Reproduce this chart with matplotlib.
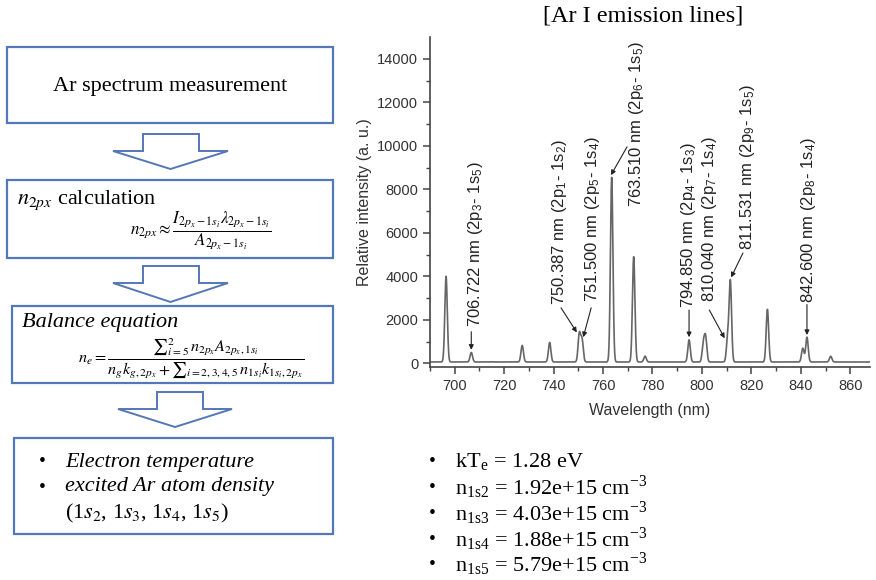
import numpy as np
import matplotlib
matplotlib.use("Agg")
import matplotlib.pyplot as plt
from matplotlib.patches import Rectangle, Polygon

plt.rcParams['mathtext.fontset'] = 'stix'

# ---------------- data ----------------
peak_nm = [696.5, 706.7, 714.7, 727.3, 738.4, 750.4, 751.5, 763.5, 772.4, 777.0,
           794.8, 800.6, 801.5, 810.4, 811.5, 826.5, 840.8, 842.5, 852.1]
peak_int = [4000, 500, 70, 820, 960, 1350, 1080, 8550, 4900, 330,
            1080, 870, 1150, 1100, 3750, 2480, 690, 1200, 320]
baseline = 60

label_text = ["706.722 nm (2p$_{\\mathregular{3}}$- 1s$_{\\mathregular{5}}$)",
              "750.387 nm (2p$_{\\mathregular{1}}$- 1s$_{\\mathregular{2}}$)",
              "751.500 nm (2p$_{\\mathregular{5}}$- 1s$_{\\mathregular{4}}$)",
              "763.510 nm (2p$_{\\mathregular{6}}$- 1s$_{\\mathregular{5}}$)",
              "794.850 nm (2p$_{\\mathregular{4}}$- 1s$_{\\mathregular{3}}$)",
              "810.040 nm (2p$_{\\mathregular{7}}$- 1s$_{\\mathregular{4}}$)",
              "811.531 nm (2p$_{\\mathregular{9}}$- 1s$_{\\mathregular{5}}$)",
              "842.600 nm (2p$_{\\mathregular{8}}$- 1s$_{\\mathregular{4}}$)"]
label_x = [708.4, 742.5, 755.7, 773.7, 794.6, 803.0, 818.6, 843.0]
label_y = [1660, 2670, 2810, 7190, 2530, 2810, 5200, 2760]
arrow_from = [(706.7, 1450), (743.0, 2550), (755.2, 2550), (769.7, 9950),
              (794.8, 2450), (803.0, 2450), (816.6, 5070), (842.5, 2700)]
arrow_to = [(706.7, 620), (749.4, 1420), (752.0, 1200), (763.2, 8650),
            (794.8, 1200), (809.2, 1150), (811.8, 3950), (842.5, 1300)]

y_ticks = [0, 2000, 4000, 6000, 8000, 10000, 12000, 14000]
x_ticks = [700, 720, 740, 760, 780, 800, 820, 840, 860]

results = ["kT$_{\\mathregular{e}}$ = 1.28 eV",
           "n$_{\\mathregular{1s2}}$ = 1.92e+15 cm$^{\\mathregular{-3}}$",
           "n$_{\\mathregular{1s3}}$ = 4.03e+15 cm$^{\\mathregular{-3}}$",
           "n$_{\\mathregular{1s4}}$ = 1.88e+15 cm$^{\\mathregular{-3}}$",
           "n$_{\\mathregular{1s5}}$ = 5.79e+15 cm$^{\\mathregular{-3}}$"]

# ---------------- figure ----------------
W, H = 876, 580
fig = plt.figure(figsize=(W / 100, H / 100), dpi=100)
ov = fig.add_axes([0, 0, 1, 1])
ov.set_xlim(0, W)
ov.set_ylim(H, 0)
ov.axis('off')

blue = '#5477B8'
serif = 'Liberation Serif'

def box(x0, y0, x1, y1):
    ov.add_patch(Rectangle((x0, y0), x1 - x0, y1 - y0, fill=False,
                           edgecolor=blue, lw=1.6))

def block_arrow(xs0, xs1, ys0, ys1, xh0, xh1, ytip):
    xm = (xh0 + xh1) / 2
    pts = [(xs0, ys0), (xs1, ys0), (xs1, ys1), (xh1, ys1), (xm, ytip),
           (xh0, ys1), (xs0, ys1)]
    ov.add_patch(Polygon(pts, closed=True, fill=False, edgecolor=blue, lw=1.4))

# boxes
box(7, 47, 333, 123)
ov.text(170, 87, "Ar spectrum measurement", family=serif, fontsize=16,
        ha='center', va='center')
block_arrow(143, 199, 134, 151, 113, 228, 169)

box(7, 180, 333, 258)
ov.text(17, 200, "$n_{2px}$ calculation", family=serif, fontsize=16,
        ha='left', va='center')
ov.text(201, 231, r"$n_{2px} \approx \dfrac{I_{2p_x-1s_i}\lambda_{2p_x-1s_i}}{A_{2p_x-1s_i}}$",
        fontsize=12.2, ha='center', va='center')
block_arrow(143, 199, 266, 283, 113, 228, 302)

box(12, 306, 333, 383)
ov.text(22, 322, "Balance equation", family=serif, style='italic', fontsize=16,
        ha='left', va='center')
ov.text(191, 358,
        r"$n_e = \dfrac{{\sum}_{i=5}^{2}\, n_{2p_x}A_{2p_x,1s_i}}{n_g k_{g,2p_x} + {\sum}_{i=2,3,4,5}\, n_{1s_i}k_{1s_i,2p_x}}$",
        fontsize=11.7, ha='center', va='center')
block_arrow(157, 203, 392, 409, 118, 232, 427)

box(14, 438, 333, 534)
ov.text(42, 462, "•", family=serif, fontsize=14, ha='center', va='center')
ov.text(65, 462, "Electron temperature", family=serif, style='italic',
        fontsize=16, ha='left', va='center')
ov.text(42, 487, "•", family=serif, fontsize=14, ha='center', va='center')
ov.text(65, 487, "excited Ar atom density", family=serif, style='italic',
        fontsize=16, ha='left', va='center')
ov.text(65, 513, "(1$s_2$, 1$s_3$, 1$s_4$, 1$s_5$)", family=serif,
        fontsize=16, ha='left', va='center')

# result bullets
for i, t in enumerate(results):
    yy = 462 + i * 25.7
    ov.text(432, yy, "•", family=serif, fontsize=14, ha='center', va='center')
    ov.text(455, yy, t, family=serif, fontsize=16, ha='left', va='center')

# title
ov.text(643, 16, "[Ar I emission lines]", family=serif, fontsize=17.5,
        ha='center', va='center')

# ---------------- spectrum ----------------
ax = fig.add_axes([430 / W, 1 - 367 / H, (870 - 430) / W, (367 - 37) / H])
ax.patch.set_alpha(0)
x = np.linspace(690, 868, 4000)
sig = 0.5
y = np.full_like(x, baseline, dtype=float)
for p, h in zip(peak_nm, peak_int):
    y += (h - baseline) * np.exp(-0.5 * ((x - p) / sig) ** 2)
ax.plot(x, y, color='#666666', lw=1.2)

ax.set_xlim(690, 868)
ax.set_ylim(-170, 15000)
ax.set_xticks(x_ticks)
ax.set_xticks(np.arange(690, 868, 10), minor=True)
ax.set_yticks(y_ticks)
ax.set_yticks(np.arange(1000, 15000, 2000), minor=True)
for s in ['top', 'right']:
    ax.spines[s].set_visible(False)
for s in ['left', 'bottom']:
    ax.spines[s].set_color('#444444')
    ax.spines[s].set_linewidth(1.2)
ax.tick_params(which='major', length=5, width=1.1, color='#444444',
               labelsize=10.5, labelcolor='#333333')
ax.tick_params(which='minor', length=3, width=1.0, color='#444444')
for lab in ax.get_xticklabels() + ax.get_yticklabels():
    lab.set_family('Liberation Sans')
ax.set_xlabel("Wavelength (nm)", family='Liberation Sans', fontsize=11.5,
              color='#333333', labelpad=7)
ax.set_ylabel("Relative intensity (a. u.)", family='Liberation Sans',
              fontsize=11.5, color='#333333', labelpad=4)

for t, lx, ly in zip(label_text, label_x, label_y):
    ax.text(lx, ly, t, rotation=90, ha='center', va='bottom',
            family='Liberation Sans', fontsize=12, color='#222222')
for (x0, y0), (x1, y1) in zip(arrow_from, arrow_to):
    ax.annotate('', xy=(x1, y1), xytext=(x0, y0),
                arrowprops=dict(arrowstyle='-|>', color='#222222', lw=0.8,
                                mutation_scale=7, shrinkA=0, shrinkB=0))

fig.savefig('out.png', dpi=100)
